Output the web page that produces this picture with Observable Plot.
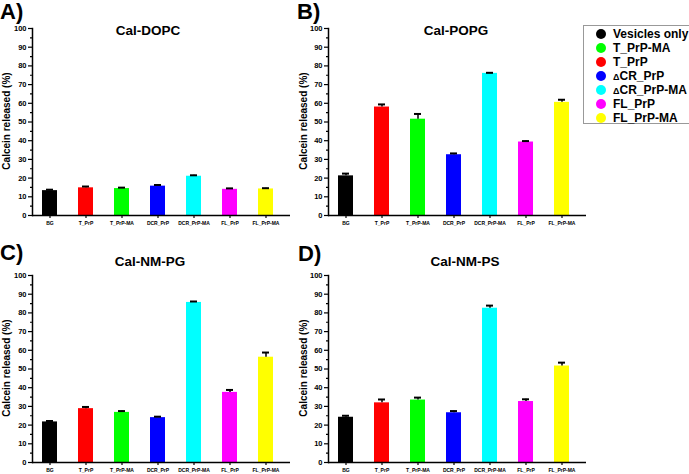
<!DOCTYPE html>
<html>
<head>
<meta charset="utf-8">
<script src="https://cdn.jsdelivr.net/npm/d3@7"></script>
<script src="https://cdn.jsdelivr.net/npm/@observablehq/plot@0.6"></script>
<style>
  html, body { margin: 0; padding: 0; background: #fff; overflow: hidden; }
  #wrap { position: relative; width: 689px; height: 474px; overflow: hidden; font-family: "Liberation Sans", Arial, sans-serif; }
  .abs { position: absolute; }
  .letter { font-size: 22px; font-weight: bold; line-height: 1; }
  .title { font-size: 13.5px; font-weight: bold; line-height: 1; transform: translateX(-50%); white-space: nowrap; }
  .ylab { width: 140px; height: 12px; font-size: 10px; font-weight: bold; white-space: nowrap; text-align: center; line-height: 12px; transform: rotate(-90deg); transform-origin: 50% 50%; }
  #legend { left: 583px; top: 25px; width: 120px; height: 99px; border: 1px solid #999; box-sizing: border-box; background: #fff; }
  .lrow { position: absolute; left: 0; height: 14px; font-size: 12px; font-weight: bold; line-height: 14px; white-space: nowrap; }
  .dot { position: absolute; left: 12px; top: 2px; width: 10px; height: 10px; border-radius: 50%; }
  .ltxt { position: absolute; left: 29px; top: 0; }
  .delta { font-size: 9px; }
</style>
</head>
<body>
<div id="wrap"></div>
<script>
const categories = ["BG", "T_PrP", "T_PrP-MA", "DCR_PrP", "DCR_PrP-MA", "FL_PrP", "FL_PrP-MA"];
const barColors = ["#000000", "#ff0000", "#00ff00", "#0000ff", "#00ffff", "#ff00ff", "#ffff00"];

const dopcValues = [13.3, 14.8, 14.4, 15.7, 21.0, 14.0, 14.2];
const dopcErrors = [0.5, 0.7, 0.5, 0.6, 0.5, 0.5, 0.4];
const popgValues = [21.2, 58.0, 51.5, 32.5, 76.0, 39.3, 60.5];
const popgErrors = [1.2, 1.4, 2.8, 0.7, 0.3, 0.5, 1.4];
const nmpgValues = [21.7, 28.8, 26.8, 24.0, 85.6, 37.5, 56.3];
const nmpgErrors = [0.5, 0.9, 0.7, 0.5, 0.5, 1.3, 2.5];
const nmpsValues = [24.2, 31.9, 33.4, 26.6, 82.5, 32.6, 51.6];
const nmpsErrors = [0.8, 1.8, 1.3, 0.9, 1.4, 1.2, 1.8];

const yTicks = [0, 10, 20, 30, 40, 50, 60, 70, 80, 90, 100];
const yMinorTicks = [5, 15, 25, 35, 45, 55, 65, 75, 85, 95];

const panelTitles = ["Cal-DOPC", "Cal-POPG", "Cal-NM-PG", "Cal-NM-PS"];
const panelLetters = ["A)", "B)", "C)", "D)"];
const yLabel = "Calcein released (%)";

const legendLabels = ["Vesicles only", "T_PrP-MA", "T_PrP", "\u0394CR_PrP", "\u0394CR_PrP-MA", "FL_PrP", "FL_PrP-MA"];
const legendColors = ["#000000", "#00ff00", "#ff0000", "#0000ff", "#00ffff", "#ff00ff", "#ffff00"];

function panel(values, errors) {
  const data = categories.map((c, i) => ({cat: c, v: values[i], e: errors[i], color: barColors[i]}));
  return Plot.plot({
    width: 296,
    height: 235,
    marginLeft: 32,
    marginTop: 28,
    marginBottom: 20,
    marginRight: 6,
    style: {fontFamily: "'Liberation Sans', Arial, sans-serif", fontWeight: "bold", background: "transparent", overflow: "visible"},
    x: {domain: categories, paddingInner: 0.58, paddingOuter: 0.373, align: 0.388, axis: null},
    y: {domain: [0, 100], axis: null},
    marks: [
      Plot.barY(data, {x: "cat", y: "v", fill: "color"}),
      Plot.ruleX(data, {x: "cat", y1: "v", y2: d => d.v + d.e, stroke: "black", strokeWidth: 1.5}),
      Plot.tickY(data, {x: "cat", y: d => d.v + d.e, stroke: "black", strokeWidth: 2, insetLeft: 4, insetRight: 4}),
      Plot.axisY({ticks: yTicks, tickSize: 4, tickPadding: 2, fontSize: 7.5, strokeWidth: 1.2, label: null}),
      Plot.axisY({ticks: yMinorTicks, tickSize: 2, tickFormat: () => "", strokeWidth: 1.2, label: null}),
      Plot.axisX({tickSize: 3, tickPadding: 3, fontSize: 5, strokeWidth: 1.2, label: null}),
      Plot.ruleY([0], {stroke: "black", strokeWidth: 1.5}),
      Plot.frame({anchor: "left", stroke: "black", strokeWidth: 1.5})
    ]
  });
}

const wrap = document.getElementById("wrap");
const panels = [
  {values: dopcValues, errors: dopcErrors, left: 0, top: 0, titleX: 148, titleY: 24, letterX: 0, letterY: 1, ylabX: 7},
  {values: popgValues, errors: popgErrors, left: 296, top: 0, titleX: 456, titleY: 24, letterX: 297, letterY: 1, ylabX: 304},
  {values: nmpgValues, errors: nmpgErrors, left: 0, top: 247, titleX: 150, titleY: 255, letterX: 0, letterY: 242, ylabX: 7},
  {values: nmpsValues, errors: nmpsErrors, left: 296, top: 247, titleX: 465, titleY: 255, letterX: 298, letterY: 243, ylabX: 304}
];

panels.forEach((p, i) => {
  const chart = panel(p.values, p.errors);
  chart.style.position = "absolute";
  chart.style.left = p.left + "px";
  chart.style.top = p.top + "px";
  wrap.appendChild(chart);

  const t = document.createElement("div");
  t.className = "abs title";
  t.style.left = p.titleX + "px";
  t.style.top = p.titleY + "px";
  t.textContent = panelTitles[i];
  wrap.appendChild(t);

  const l = document.createElement("div");
  l.className = "abs letter";
  l.style.left = p.letterX + "px";
  l.style.top = p.letterY + "px";
  l.textContent = panelLetters[i];
  wrap.appendChild(l);

  const y = document.createElement("div");
  y.className = "abs ylab";
  y.style.left = (p.ylabX - 70) + "px";
  y.style.top = (p.top + 121 - 6) + "px";
  y.textContent = yLabel;
  wrap.appendChild(y);
});

const legend = document.createElement("div");
legend.id = "legend";
legend.className = "abs";
legendLabels.forEach((lab, i) => {
  const row = document.createElement("div");
  row.className = "lrow";
  row.style.top = (1 + i * 14) + "px";
  const dot = document.createElement("div");
  dot.className = "dot";
  dot.style.background = legendColors[i];
  row.appendChild(dot);
  const txt = document.createElement("div");
  txt.className = "ltxt";
  if (lab.startsWith("\u0394")) {
    const d = document.createElement("span");
    d.className = "delta";
    d.textContent = "\u0394";
    txt.appendChild(d);
    txt.appendChild(document.createTextNode(lab.slice(1)));
  } else {
    txt.textContent = lab;
  }
  row.appendChild(txt);
  legend.appendChild(row);
});
wrap.appendChild(legend);
</script>
</body>
</html>
